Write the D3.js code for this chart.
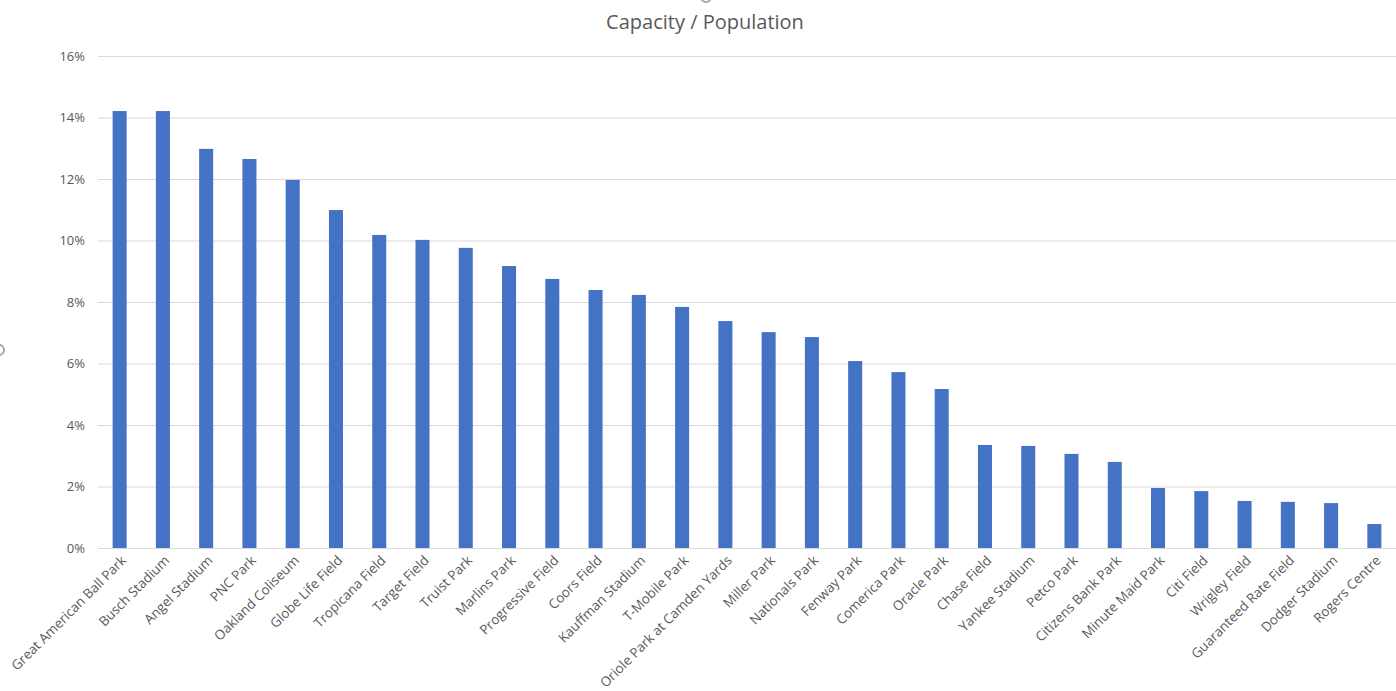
<!DOCTYPE html>
<html>
<head>
<meta charset="utf-8">
<script src="https://cdn.jsdelivr.net/npm/d3@7"></script>
<style>
  body { margin: 0; background: #fff; }
  svg { display: block; }
  text { font-family: "Open Sans", "Noto Sans", sans-serif; fill: #595959; }
</style>
</head>
<body>
<div id="chart"></div>
<script>
var stadiums = ["Great American Ball Park", "Busch Stadium", "Angel Stadium", "PNC Park",
    "Oakland Coliseum", "Globe Life Field", "Tropicana Field", "Target Field", "Truist Park",
    "Marlins Park", "Progressive Field", "Coors Field", "Kauffman Stadium", "T-Mobile Park",
    "Oriole Park at Camden Yards", "Miller Park", "Nationals Park", "Fenway Park",
    "Comerica Park", "Oracle Park", "Chase Field", "Yankee Stadium", "Petco Park",
    "Citizens Bank Park", "Minute Maid Park", "Citi Field", "Wrigley Field",
    "Guaranteed Rate Field", "Dodger Stadium", "Rogers Centre"]

// capacity / population, in percent
var ratio = [14.21, 14.21, 12.98, 12.65, 11.97, 10.99, 10.18, 10.02, 9.76, 9.17,
    8.75, 8.39, 8.23, 7.84, 7.38, 7.02, 6.86, 6.08, 5.72, 5.17,
    3.35, 3.32, 3.06, 2.80, 1.95, 1.85, 1.53, 1.50, 1.46, 0.78]

var yTicks = [0, 2, 4, 6, 8, 10, 12, 14, 16]

var width = 1396, height = 691
var margin = {top: 56, right: 0, bottom: 143, left: 98}

var svg = d3.select("#chart")
    .append("svg")
    .attr("width", width)
    .attr("height", height)

var x = d3.scaleBand()
    .domain(stadiums)
    .range([margin.left, width - margin.right])
    .paddingInner(0.676)
    .paddingOuter(0.338)

var y = d3.scaleLinear()
    .domain([0, 16])
    .range([height - margin.bottom, margin.top])

// gridlines
svg.append("g")
    .selectAll("line")
    .data(yTicks)
    .enter()
    .append("line")
    .attr("x1", margin.left)
    .attr("x2", width - margin.right)
    .attr("y1", function(d){ return y(d) + 0.5 })
    .attr("y2", function(d){ return y(d) + 0.5 })
    .style("stroke", "#d9d9d9")
    .style("stroke-width", 1)

// y labels
svg.append("g")
    .selectAll("text")
    .data(yTicks)
    .enter()
    .append("text")
    .attr("x", margin.left - 13)
    .attr("y", function(d){ return y(d) })
    .attr("dy", "0.35em")
    .attr("text-anchor", "end")
    .style("font-size", "13px")
    .text(function(d){ return d + "%" })

// bars
svg.append("g")
    .selectAll("rect")
    .data(ratio)
    .enter()
    .append("rect")
    .attr("x", function(d, i){ return x(stadiums[i]) })
    .attr("width", x.bandwidth())
    .attr("y", function(d){ return y(d) })
    .attr("height", function(d){ return y(0) - y(d) })
    .attr("fill", "#4472c4")

// x axis line
svg.append("line")
    .attr("x1", margin.left)
    .attr("x2", width - margin.right)
    .attr("y1", y(0) + 0.5)
    .attr("y2", y(0) + 0.5)
    .style("stroke", "#d9d9d9")

// category labels, rotated
svg.append("g")
    .selectAll("text")
    .data(stadiums)
    .enter()
    .append("text")
    .attr("transform", function(d){
        var cx = x(d) + x.bandwidth() / 2 + 4
        return "translate(" + cx + "," + (y(0) + 10) + ") rotate(-45)"
    })
    .attr("text-anchor", "end")
    .attr("dy", "0.35em")
    .style("font-size", "13.4px")
    .text(function(d){ return d })

// title
svg.append("text")
    .attr("x", 705)
    .attr("y", 29)
    .attr("text-anchor", "middle")
    .style("font-size", "20px")
    .text("Capacity / Population")

// selection handles left over from the screenshot
svg.append("g")
    .selectAll("circle")
    .data([[706, -3], [-1, 350]])
    .enter()
    .append("circle")
    .attr("cx", function(d){ return d[0] })
    .attr("cy", function(d){ return d[1] })
    .attr("r", 5)
    .style("fill", "none")
    .style("stroke", "#a6a6a6")
    .style("stroke-width", 2)
</script>
</body>
</html>
